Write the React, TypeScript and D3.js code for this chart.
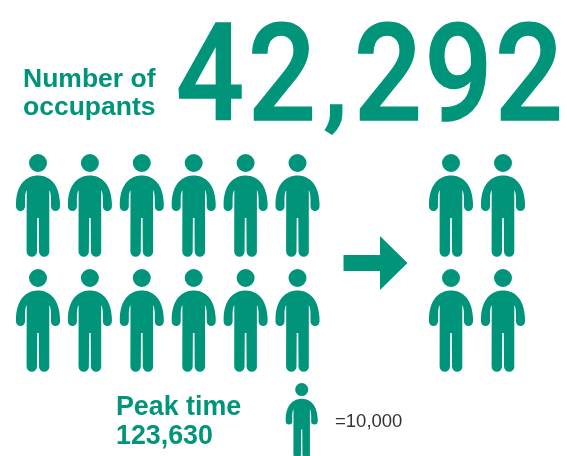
import React from 'react'
import * as d3 from 'd3'

const occupants = 42292
const peakTime = 123630
const unit = 10000
const occupantsLabel = ['Number of', 'occupants']
const peakLabel = 'Peak time'

const width = 567
const height = 456
const green = '#00957a'
const sans = '"Liberation Sans", Arial, sans-serif'

// pictogram of one person, drawn round x = 0 with the top of the head at y = 0
const personPath = () => {
  const p = d3.path()
  p.moveTo(0, 21.5)
  p.bezierCurveTo(8, 21.5, 21, 26, 22, 49)
  p.lineTo(22, 52.5)
  p.arc(17.5, 52.5, 4.5, 0, Math.PI)
  p.lineTo(13, 46)
  p.bezierCurveTo(13, 41, 12.5, 38, 11.3, 36)
  p.lineTo(11.3, 97.5)
  p.arc(6.2, 97.5, 5.2, 0, Math.PI)
  p.lineTo(0.8, 64)
  p.lineTo(-0.8, 64)
  p.lineTo(-1, 97.5)
  p.arc(-6.2, 97.5, 5.2, 0, Math.PI)
  p.lineTo(-11.3, 36)
  p.bezierCurveTo(-12.5, 38, -13, 41, -13, 46)
  p.lineTo(-13, 52.5)
  p.arc(-17.5, 52.5, 4.5, 0, Math.PI)
  p.lineTo(-22, 49)
  p.bezierCurveTo(-21, 26, -8, 21.5, 0, 21.5)
  p.closePath()
  p.moveTo(9, 9)
  p.arc(0, 9, 9, 0, Math.PI * 2)
  return p.toString()
}

const Person = ({x, y, k = 1}: {x: number, y: number, k?: number}) => (
  <path d={personPath()} transform={`translate(${x},${y}) scale(${k})`} fill={green} />
)

const arrowPath = () => {
  const p = d3.path()
  p.moveTo(343.5, 255)
  p.lineTo(380, 255)
  p.lineTo(380, 236)
  p.lineTo(407.5, 263)
  p.lineTo(380, 290)
  p.lineTo(380, 271)
  p.lineTo(343.5, 271)
  p.closePath()
  return p.toString()
}

export default function App() {
  const peakIcons = d3.range(Math.round(peakTime / unit))
  const occIcons = d3.range(Math.round(occupants / unit))

  const xPeak = d3.scaleLinear().domain([0, 5]).range([38, 297.5])
  const xOcc = d3.scaleLinear().domain([0, 1]).range([451, 503])
  const yRow = d3.scaleLinear().domain([0, 1]).range([154, 269])

  const bigText = d3.format(',')(occupants)
  const glyphCenters = [210, 282, 335.5, 388, 458.5, 529]

  return (
    <svg width={width} height={height} style={{position: 'fixed', left: 0, top: 0, display: 'block'}}>
      {bigText.split('').map((c, i) => (
        // the comma sits higher and smaller than a Roboto comma would at this size
        <text key={i} transform={`translate(${glyphCenters[i]},${c === ',' ? 117 : 120}) scale(${c === ',' ? 1 : 0.88},1)`}
              textAnchor="middle" fontFamily="Roboto" fontSize={c === ',' ? 105 : 136} fontWeight={500} fill={green}
              stroke={green} strokeWidth={1.5}>{c}</text>
      ))}
      {occupantsLabel.map((t, i) => (
        <text key={t} x={23} y={87 + i * 28} fontFamily={sans} fontWeight={700} fontSize={26.5} fill={green}>{t}</text>
      ))}
      {peakIcons.map(i => (
        <Person key={i} x={xPeak(i % 6)} y={yRow(Math.floor(i / 6))} />
      ))}
      {occIcons.map(i => (
        <Person key={i} x={xOcc(i % 2)} y={yRow(Math.floor(i / 2))} />
      ))}
      <path d={arrowPath()} fill={green} />
      <text x={116} y={415} fontFamily={sans} fontWeight={700} fontSize={26.8} fill={green}>{peakLabel}</text>
      <text x={116} y={444} fontFamily={sans} fontWeight={700} fontSize={26.8} fill={green}>{d3.format(',')(peakTime)}</text>
      <Person x={301.7} y={383} k={0.727} />
      <text x={335} y={427} fontFamily={sans} fontSize={18.5} fill="#333">={d3.format(',')(unit)}</text>
    </svg>
  )
}
